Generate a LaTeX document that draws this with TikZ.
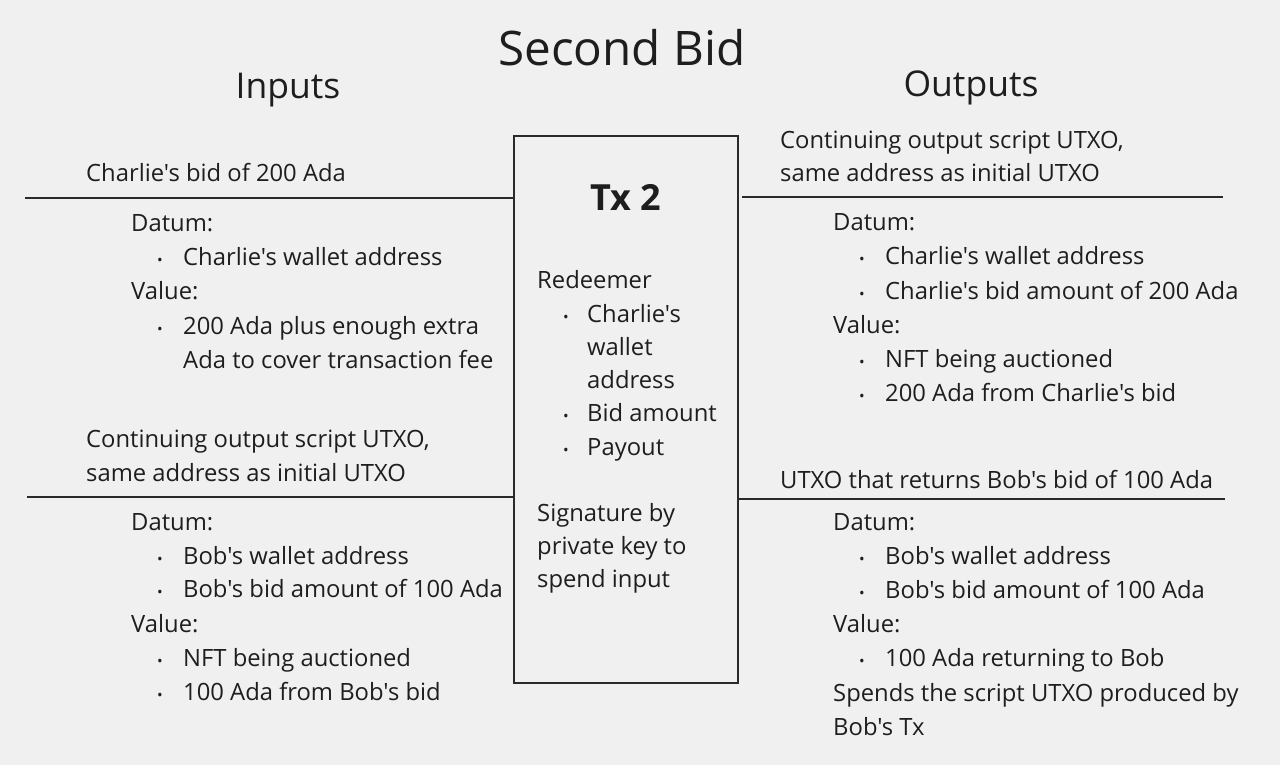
\documentclass[tikz,border=0pt]{standalone}
\usepackage{fontspec}
\setmainfont{Open Sans}[Ligatures=TeXOff]
\definecolor{bg}{HTML}{F0F0F0}
\definecolor{ink}{HTML}{1E1E1E}
\definecolor{rule}{HTML}{2A2A2A}
\tikzset{
  txt/.style={anchor=base west, inner sep=0pt, text=ink, font=\fontsize{23.8}{28}\selectfont},
  blt/.style={anchor=base, inner sep=0pt, text=ink, font=\fontsize{15}{18}\selectfont},
  head/.style={anchor=base, inner sep=0pt, text=ink, font=\fontsize{35.5}{40}\selectfont},
  conn/.style={draw=rule, line width=1.6pt},
  txbox/.style={draw=rule, line width=2pt, fill=none}
}
\begin{document}
\begin{tikzpicture}[x=1pt,y=-1pt]
\path[fill=bg] (0,0) rectangle (1280,765);
\useasboundingbox (0,0) rectangle (1280,765);
% headings
\node[head, font=\fontsize{47.6}{52}\selectfont] (title) at (622,66) {Second Bid};
\node[head] (inputs) at (288,99) {Inputs};
\node[head] (outputs) at (971,97) {Outputs};
% transaction box
\node[txbox, minimum width=224pt, minimum height=547pt, inner sep=0pt] (tx) at (626,409.5) {};
\node[anchor=base, inner sep=0pt, text=ink, font=\fontsize{36}{40}\selectfont\bfseries] (txt) at (626,210) {Tx 2};
\node[txt] (r1) at (537,288) {Redeemer};
\node[blt] (rb1) at (566,322) {•};
\node[txt] (r2) at (587,322) {Charlie's};
\node[txt] (r3) at (587,355) {wallet};
\node[txt] (r4) at (587,388) {address};
\node[blt] (rb2) at (566,421) {•};
\node[txt] (r5) at (587,421) {Bid amount};
\node[blt] (rb3) at (566,455) {•};
\node[txt] (r6) at (587,455) {Payout};
\node[txt] (s1) at (537,521) {Signature by};
\node[txt] (s2) at (537,554) {private key to};
\node[txt] (s3) at (537,587) {spend input};
% connector end points
\coordinate (li1) at (25,198);
\coordinate (li2) at (27,497);
\coordinate (ro1) at (1223,197);
\coordinate (ro2) at (1225,499);
\draw[conn] (li1) -- (tx.west |- li1);
\draw[conn] (li2) -- (tx.west |- li2);
\draw[conn] ([xshift=3pt]tx.east |- ro1) -- (ro1);
\draw[conn] (tx.east |- ro2) -- (ro2);
% input 1
\node[txt] (a1) at (86,182) {Charlie's bid of 200 Ada};
\node[txt] (a2) at (131,231.5) {Datum:};
\node[blt] (ab1) at (160,265) {•};
\node[txt] (a3) at (183,265) {Charlie's wallet address};
\node[txt] (a4) at (131,299) {Value:};
\node[blt] (ab2) at (160,334) {•};
\node[txt] (a5) at (183,334) {200 Ada plus enough extra};
\node[txt] (a6) at (183,368) {Ada to cover transaction fee};
% input 2
\node[txt] (b1) at (86,447) {Continuing output script UTXO,};
\node[txt] (b2) at (86,481) {same address as initial UTXO};
\node[txt] (b3) at (131,530) {Datum:};
\node[blt] (bb1) at (160,564) {•};
\node[txt] (b4) at (183,564) {Bob's wallet address};
\node[blt] (bb2) at (160,597) {•};
\node[txt] (b5) at (183,597) {Bob's bid amount of 100 Ada};
\node[txt] (b6) at (131,632) {Value:};
\node[blt] (bb3) at (160,666) {•};
\node[txt] (b7) at (183,666) {NFT being auctioned};
\node[blt] (bb4) at (160,700) {•};
\node[txt] (b8) at (183,700) {100 Ada from Bob's bid};
% output 1
\node[txt] (c1) at (780,149) {Continuing output script UTXO,};
\node[txt] (c2) at (780,182) {same address as initial UTXO};
\node[txt] (c3) at (833,230) {Datum:};
\node[blt] (cb1) at (862,264) {•};
\node[txt] (c4) at (885,264) {Charlie's wallet address};
\node[blt] (cb2) at (862,299) {•};
\node[txt] (c5) at (885,299) {Charlie's bid amount of 200 Ada};
\node[txt] (c6) at (833,333) {Value:};
\node[blt] (cb3) at (862,367) {•};
\node[txt] (c7) at (885,367) {NFT being auctioned};
\node[blt] (cb4) at (862,401) {•};
\node[txt] (c8) at (885,401) {200 Ada from Charlie's bid};
% output 2
\node[txt] (d1) at (780,488) {UTXO that returns Bob's bid of 100 Ada};
\node[txt] (d2) at (833,530) {Datum:};
\node[blt] (db1) at (862,564) {•};
\node[txt] (d3) at (885,564) {Bob's wallet address};
\node[blt] (db2) at (862,598) {•};
\node[txt] (d4) at (885,598) {Bob's bid amount of 100 Ada};
\node[txt] (d5) at (833,632) {Value:};
\node[blt] (db3) at (862,666) {•};
\node[txt] (d6) at (885,666) {100 Ada returning to Bob};
\node[txt] (d7) at (833,701) {Spends the script UTXO produced by};
\node[txt] (d8) at (833,735) {Bob's Tx};
\end{tikzpicture}
\end{document}
